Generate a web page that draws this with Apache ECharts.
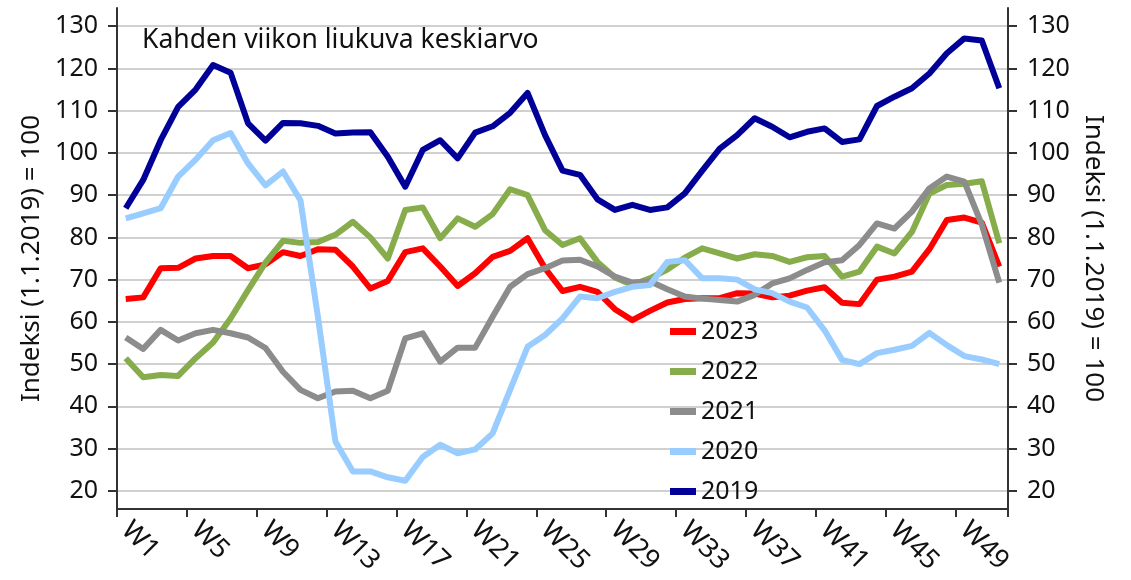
<!DOCTYPE html>
<html>
<head>
<meta charset="utf-8">
<script src="https://cdn.jsdelivr.net/npm/echarts@6/dist/echarts.min.js"></script>
<style>
  html, body { margin: 0; padding: 0; background: #fff; }
  #chart { width: 1131px; height: 580px; }
</style>
</head>
<body>
<div id="chart"></div>
<script>
var weeks = ['W1','W2','W3','W4','W5','W6','W7','W8','W9','W10','W11','W12','W13','W14','W15','W16','W17',
  'W18','W19','W20','W21','W22','W23','W24','W25','W26','W27','W28','W29','W30','W31','W32','W33','W34',
  'W35','W36','W37','W38','W39','W40','W41','W42','W43','W44','W45','W46','W47','W48','W49','W50','W51'];
var yTicks = [20, 30, 40, 50, 60, 70, 80, 90, 100, 110, 120, 130];

var v2023 = [65.4, 65.8, 72.7, 72.8, 75, 75.6, 75.6, 72.7, 73.6, 76.5, 75.6, 77.2, 77.1, 73.1, 67.9, 69.7, 76.5,
  77.4, 73.1, 68.5, 71.5, 75.4, 76.8, 79.8, 72.7, 67.3, 68.3, 67.1, 63, 60.4, 62.6, 64.6, 65.4, 65.6,
  65.6, 66.8, 66.7, 65.8, 66.2, 67.4, 68.2, 64.5, 64.2, 70, 70.7, 71.9, 77.2, 84.1, 84.7, 83.5, 73.1];
var v2022 = [51.4, 46.9, 47.4, 47.2, 51.4, 55.1, 60.8, 67.5, 74, 79.2, 78.7, 78.9, 80.6, 83.7, 80, 75, 86.5,
  87.1, 79.8, 84.5, 82.5, 85.5, 91.4, 90, 81.7, 78.2, 79.8, 74.2, 70.5, 68.7, 70.3, 72.4, 75.2, 77.4,
  76.2, 75, 76, 75.6, 74.2, 75.3, 75.6, 70.7, 71.9, 77.8, 76.2, 81.3, 90.4, 92.4, 92.7, 93.3, 78.6];
var v2021 = [56.3, 53.6, 58.1, 55.6, 57.3, 58.1, 57.3, 56.3, 53.8, 48.2, 43.9, 41.9, 43.5, 43.7, 41.9, 43.7, 56.1,
  57.3, 50.6, 53.9, 53.9, 61.2, 68.3, 71.3, 72.7, 74.5, 74.7, 73.1, 70.7, 69.3, 69.6, 67.7, 66, 65.5,
  65.2, 64.8, 66.4, 69.1, 70.3, 72.3, 74.1, 74.6, 78.2, 83.3, 82.1, 86.1, 91.6, 94.4, 93.2, 83, 69.3];
var v2020 = [84.5, 85.7, 86.9, 94.4, 98.4, 103, 104.7, 97.5, 92.3, 95.6, 88.8, 61.2, 31.7, 24.6, 24.6, 23.2, 22.4,
  28, 30.9, 28.9, 29.8, 33.6, 43.9, 54.1, 56.9, 60.8, 66, 65.6, 67.1, 68.3, 68.7, 74.2, 74.6, 70.3,
  70.3, 70, 67.7, 66.8, 64.8, 63.4, 58, 51, 50, 52.6, 53.4, 54.3, 57.4, 54.5, 51.9, 51.1, 50];
var v2019 = [86.9, 93.6, 103, 110.9, 115, 120.8, 119, 107, 102.9, 107.1, 107, 106.4, 104.6, 104.8, 104.9, 99.1, 92,
  100.7, 103, 98.7, 104.8, 106.3, 109.5, 114.2, 104.2, 95.8, 94.8, 89, 86.5, 87.7, 86.5, 87.1, 90.4, 95.8,
  101, 104.2, 108.2, 106.2, 103.7, 105, 105.8, 102.6, 103.2, 111.1, 113.3, 115.3, 118.8, 123.6, 127.1, 126.6, 115.3];

var years = ['2023', '2022', '2021', '2020', '2019'];
var colors = ['#ff0000', '#86ac4b', '#8c8c8c', '#99ccff', '#000099'];
var values = [v2023, v2022, v2021, v2020, v2019];

var font = 'Noto Sans';
var axisName = 'Indeksi (1.1.2019) = 100';

function yAxisFor(side) {
  return {
    type: 'value',
    position: side,
    min: 15.7,
    max: 134.3,
    name: axisName,
    nameLocation: 'middle',
    nameGap: 65,
    nameRotate: side === 'left' ? 90 : -90,
    nameTextStyle: { fontFamily: font, fontSize: 26, color: '#111' },
    axisLine: { show: true, lineStyle: { color: '#333', width: 2 } },
    axisTick: { show: true, length: 9, customValues: yTicks, lineStyle: { color: '#333', width: 2 } },
    axisLabel: { customValues: yTicks, fontFamily: font, fontSize: 25, color: '#111', margin: 19 },
    splitLine: { show: side === 'left', lineStyle: { color: '#d0d0d0', width: 2 } }
  };
}

var series = [];
for (var i = 0; i < years.length; i++) {
  series.push({
    name: years[i],
    type: 'line',
    data: values[i],
    yAxisIndex: 0,
    showSymbol: false,
    symbol: 'none',
    lineStyle: { color: colors[i], width: 6, cap: 'butt', join: 'round' },
    itemStyle: { color: colors[i] }
  });
}

var myChart = echarts.init(document.getElementById('chart'));
myChart.setOption({
  animation: false,
  backgroundColor: '#fff',
  title: {
    text: 'Kahden viikon liukuva keskiarvo',
    left: 137, top: 22,
    textStyle: { fontFamily: font, fontSize: 26.5, fontWeight: 'normal', color: '#111' }
  },
  grid: { left: 117, right: 123, top: 8, bottom: 71, containLabel: false },
  legend: {
    orient: 'vertical',
    left: 665, top: 314,
    icon: 'rect',
    itemWidth: 26, itemHeight: 7,
    itemGap: 15,
    textStyle: { fontFamily: font, fontSize: 25, color: '#111' },
    data: years
  },
  xAxis: {
    type: 'category',
    data: weeks,
    boundaryGap: true,
    axisLine: { lineStyle: { color: '#333', width: 2 } },
    axisTick: { show: true, interval: 3, length: 8, lineStyle: { color: '#333', width: 2 } },
    axisLabel: { interval: 3, rotate: -45, fontFamily: font, fontSize: 27, color: '#111', margin: 17 },
    splitLine: { show: false }
  },
  yAxis: [yAxisFor('left'), yAxisFor('right')],
  series: series
});
</script>
</body>
</html>
